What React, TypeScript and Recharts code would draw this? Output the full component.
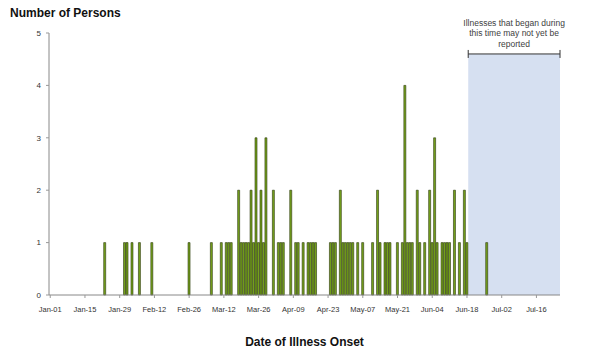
import React from "react";
import { BarChart, Bar, XAxis, YAxis, ReferenceArea } from "recharts";

const monthNames = ["Jan", "Feb", "Mar", "Apr", "May", "Jun", "Jul"];
const monthLengths = [31, 28, 31, 30, 31, 30, 31];
const totalDays = 206; // Jan-01 .. Jul-25

const tickLabels = [
  "Jan-01", "Jan-15", "Jan-29", "Feb-12", "Feb-26", "Mar-12", "Mar-26",
  "Apr-09", "Apr-23", "May-07", "May-21", "Jun-04", "Jun-18", "Jul-02", "Jul-16",
];

const onsetDates = [
  "Jan-23", "Jan-31", "Feb-01", "Feb-03", "Feb-06", "Feb-11", "Feb-26",
  "Mar-07", "Mar-11", "Mar-13", "Mar-14", "Mar-15", "Mar-18", "Mar-19", "Mar-20",
  "Mar-21", "Mar-22", "Mar-23", "Mar-24", "Mar-25", "Mar-26", "Mar-27", "Mar-28",
  "Mar-29", "Apr-01", "Apr-03", "Apr-04", "Apr-05", "Apr-08", "Apr-10", "Apr-11",
  "Apr-13", "Apr-15", "Apr-16", "Apr-17", "Apr-18", "Apr-24", "Apr-25", "Apr-26",
  "Apr-28", "Apr-29", "Apr-30", "May-01", "May-02", "May-03", "May-05", "May-07",
  "May-11", "May-13", "May-14", "May-16", "May-17", "May-18", "May-21", "May-23",
  "May-24", "May-25", "May-26", "May-27", "May-29", "May-30", "Jun-01", "Jun-03",
  "Jun-04", "Jun-05", "Jun-06", "Jun-08", "Jun-09", "Jun-10", "Jun-11", "Jun-13",
  "Jun-15", "Jun-17", "Jun-18", "Jun-26",
];

const onsetCounts = [
  1, 1, 1, 1, 1, 1, 1,
  1, 1, 1, 1, 1, 2, 1, 1,
  1, 1, 2, 1, 3, 1, 2, 1,
  3, 2, 1, 1, 1, 2, 1, 1,
  1, 1, 1, 1, 1, 1, 1, 1,
  2, 1, 1, 1, 1, 1, 1, 1,
  1, 2, 1, 1, 1, 1, 1, 1,
  4, 1, 1, 1, 2, 1, 1, 2,
  1, 3, 1, 1, 1, 1, 1, 2,
  1, 2, 1, 1,
];

const pendingStart = "Jun-19";
const pendingEnd = "Jul-25";
const pendingTop = 4.6;
const pendingNote = ["Illnesses that began during", "this time may not yet be", "reported"];

const dayLabels: string[] = [];
for (let m = 0; m < monthNames.length && dayLabels.length < totalDays; m++) {
  for (let d = 1; d <= monthLengths[m] && dayLabels.length < totalDays; d++) {
    dayLabels.push(`${monthNames[m]}-${d < 10 ? "0" + d : d}`);
  }
}

const countByDate: Record<string, number> = {};
onsetDates.forEach((d, i) => {
  countByDate[d] = onsetCounts[i];
});

const data = dayLabels.map((date) => ({ date, persons: countByDate[date] ?? 0 }));

const FONT = "Arial, 'Liberation Sans', sans-serif";

const PendingShape = (props: any) => {
  const { x, y, width, height } = props;
  const cx = x + width / 2;
  return (
    <g>
      <rect x={x} y={y} width={width} height={height} fill="#D6E0F1" />
      <path
        d={`M${x},${y - 4}V${y + 4}M${x},${y}H${x + width}M${x + width},${y - 4}V${y + 4}`}
        stroke="#333"
        strokeWidth={1}
        fill="none"
      />
      {pendingNote.map((line, i) => (
        <text
          key={i}
          x={cx}
          y={y - 28 + i * 10.5}
          textAnchor="middle"
          fontFamily={FONT}
          fontSize={8.5}
          fill="#404040"
        >
          {line}
        </text>
      ))}
    </g>
  );
};

export default function App() {
  return (
    <div style={{ position: "absolute", left: 0, top: 0, width: 600, height: 360, background: "#fff" }}>
      <BarChart
        width={600}
        height={360}
        data={data}
        margin={{ top: 33, right: 40, bottom: 35, left: 0 }}
        barCategoryGap="5%"
      >
        <XAxis
          dataKey="date"
          ticks={tickLabels}
          interval={0}
          tickSize={3}
          tickMargin={9}
          height={30}
          axisLine={{ stroke: "#888" }}
          tickLine={{ stroke: "#999" }}
          tick={{ fontSize: 7.5, fill: "#333", fontFamily: FONT }}
        />
        <YAxis
          width={49}
          domain={[0, 5]}
          ticks={[0, 1, 2, 3, 4, 5]}
          tickSize={3}
          tickMargin={5}
          axisLine={{ stroke: "#888" }}
          tickLine={{ stroke: "#999" }}
          tick={{ fontSize: 8, fill: "#333", fontFamily: FONT }}
        />
        <ReferenceArea
          x1={pendingStart}
          x2={pendingEnd}
          y1={0}
          y2={pendingTop}
          shape={PendingShape}
          ifOverflow="visible"
        />
        <Bar
          dataKey="persons"
          fill="#76A31C"
          stroke="#2A350C"
          strokeWidth={0.6}
          isAnimationActive={false}
        />
      </BarChart>
      <div
        style={{
          position: "absolute",
          left: 10,
          top: 6,
          fontFamily: FONT,
          fontWeight: "bold",
          fontSize: 12,
          lineHeight: "14px",
          color: "#111",
          whiteSpace: "nowrap",
        }}
      >
        Number of Persons
      </div>
      <div
        style={{
          position: "absolute",
          left: 49,
          width: 511,
          top: 335,
          textAlign: "center",
          fontFamily: FONT,
          fontWeight: "bold",
          fontSize: 12,
          lineHeight: "14px",
          color: "#111",
          whiteSpace: "nowrap",
        }}
      >
        Date of Illness Onset
      </div>
    </div>
  );
}
